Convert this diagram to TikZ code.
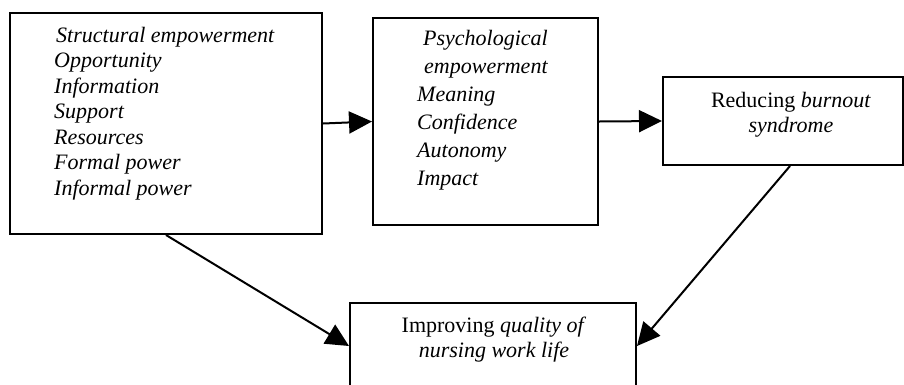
\documentclass[tikz,border=0pt]{standalone}
\usepackage{fontspec}
\setmainfont{Liberation Serif}
\usetikzlibrary{arrows.meta}
\begin{document}
\begin{tikzpicture}[x=1pt,y=-1pt,
  box/.style={draw, line width=2pt, inner sep=0pt},
  txt/.style={inner sep=0pt},
  arr/.style={line width=2pt, -{Triangle[length=23pt,width=22pt]}}]
\useasboundingbox (0,0) rectangle (904,384);
\clip (0,0) rectangle (904,384);
\node[box, minimum width=312pt, minimum height=221pt] (b1) at (166,123.5) {};
\node[box, minimum width=225pt, minimum height=207pt] (b2) at (485.5,121.5) {};
\node[box, minimum width=240pt, minimum height=88pt] (b3) at (783,121) {};
\node[box, minimum width=286pt, minimum height=86pt] (b4) at (493,346) {};
\node[txt, anchor=base west, font=\fontsize{22}{25.5}\selectfont] (t1) at (54,42)
  {\begin{tabular}[t]{@{}l@{}}
   \hspace{2pt}\textit{Structural empowerment}\\
   \textit{Opportunity}\\
   \textit{Information}\\
   \textit{Support}\\
   \textit{Resources}\\
   \textit{Formal power}\\
   \textit{Informal power}
   \end{tabular}};
\node[txt, anchor=base west, font=\fontsize{22}{28}\selectfont] (t2) at (417,45)
  {\begin{tabular}[t]{@{}l@{}}
   \hspace{6pt}\textit{Psychological}\\
   \hspace{7pt}\textit{empowerment}\\
   \textit{Meaning}\\
   \textit{Confidence}\\
   \textit{Autonomy}\\
   \textit{Impact}
   \end{tabular}};
\node[txt, anchor=base, font=\fontsize{22}{25}\selectfont] (t3) at (791,107)
  {\begin{tabular}[t]{@{}c@{}}
   Reducing \textit{burnout}\\
   \textit{syndrome}
   \end{tabular}};
\node[txt, anchor=base, font=\fontsize{22}{25}\selectfont] (t4) at (494,332)
  {\begin{tabular}[t]{@{}c@{}}
   Improving \textit{quality of}\\
   \textit{nursing work life}
   \end{tabular}};
\draw[arr] (b1.east) -- (b2.west);
\draw[arr] (b2.east) -- (b3.west);
\draw[arr] (b1.south) -- (b4.west);
\draw[arr] ([xshift=7pt]b3.south) -- (b4.east);
\end{tikzpicture}
\end{document}
